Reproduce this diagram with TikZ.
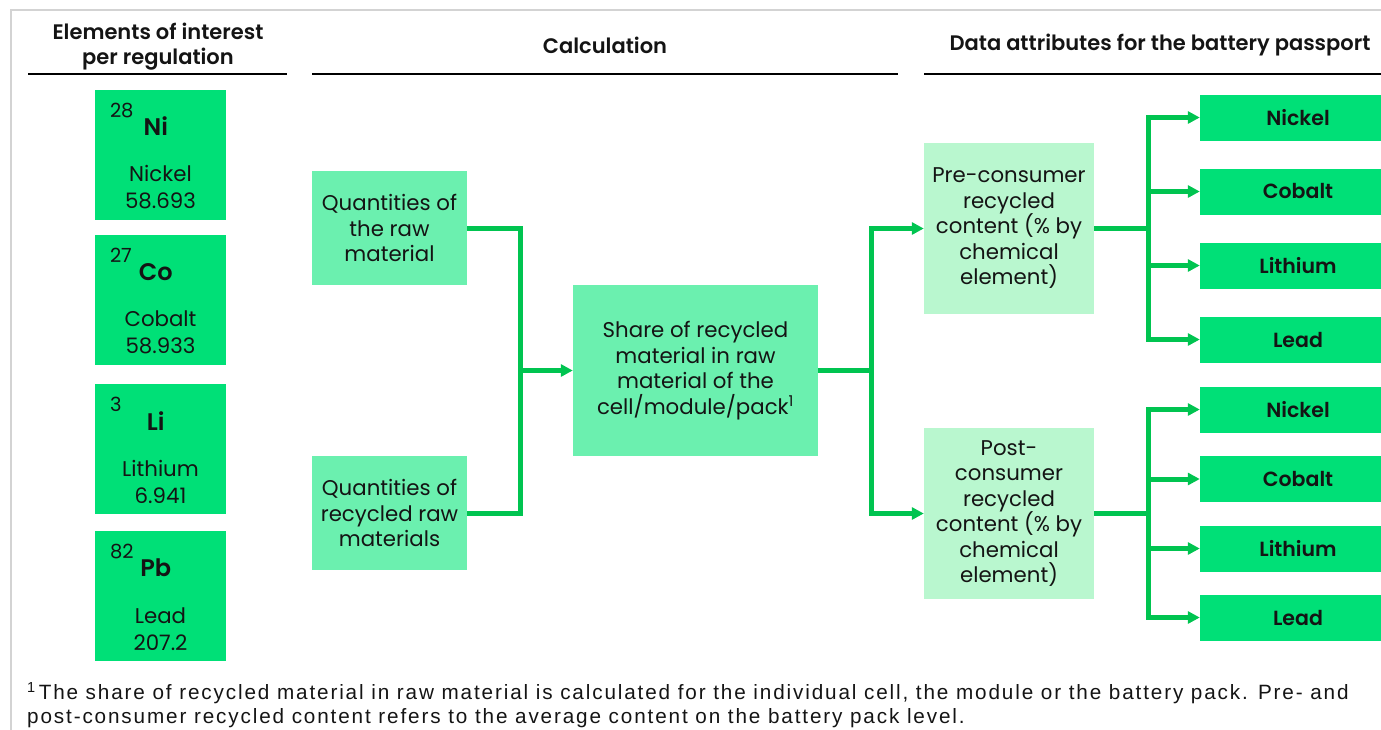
\documentclass[tikz,border=0pt]{standalone}
\usepackage{fontspec}
\setmainfont{Poppins}[BoldFont={Poppins SemiBold}]
\newfontfamily\notefont[LetterSpace=9]{Liberation Sans}
\usepackage{tikz}
\usetikzlibrary{arrows.meta,positioning,calc}
\usepackage{xcolor}
\definecolor{elemgreen}{HTML}{00E077}
\definecolor{calcgreen}{HTML}{6BF0AF}
\definecolor{attrgreen}{HTML}{B9F7CF}
\definecolor{arrowgreen}{HTML}{00C450}
\definecolor{framegrey}{HTML}{D3D3D3}
\definecolor{txt}{HTML}{141414}

\begin{document}
\begin{tikzpicture}[
  x=1pt, y=-1pt,
  font=\fontsize{21.3}{25.5}\selectfont, text=txt,
  elem/.style={fill=elemgreen, minimum width=131pt, minimum height=130pt, inner sep=0pt},
  znum/.style={font=\fontsize{19.5}{20}\selectfont, inner sep=0pt, anchor=west},
  sym/.style={font=\fontsize{24}{26}\selectfont\bfseries, inner sep=0pt},
  ename/.style={align=center, inner sep=0pt, font=\fontsize{21.3}{27}\selectfont},
  calc/.style={fill=calcgreen, align=center, inner sep=0pt},
  attr/.style={fill=attrgreen, align=center, inner sep=0pt, minimum width=170pt, minimum height=171pt},
  pass/.style={fill=elemgreen, font=\fontsize{20.5}{25}\selectfont\bfseries,
               minimum width=196pt, minimum height=46pt, inner sep=0pt},
  head/.style={font=\fontsize{21}{25}\selectfont\bfseries, align=center, inner sep=0pt},
  rule/.style={line width=2.5pt, draw=black},
  ln/.style={line width=5pt, draw=arrowgreen},
  ar/.style={ln, -{Triangle[length=12pt, width=12pt]}}
]
\useasboundingbox (0,0) rectangle (1381,729);
\draw[framegrey, line width=1.5pt] (11,10) rectangle (1420,760);

\node[head] (h-elem) at (158,47) {Elements of interest\\per regulation};
\node[head] (h-calc) at (605,45) {Calculation};
\node[head] (h-data) at (1160,45) {Data attributes for the battery passport};
\draw[rule] (28,74) -- (287,74);
\draw[rule] (312,74) -- (898,74);
\draw[rule] (924,74) -- (1381,74);

\node[elem]  (ni)   at (160.5,154.5) {};
\node[znum]  (ni-z) at ($(ni.north west)+(15,21)$) {28};
\node[sym]   (ni-s) at ($(ni.north west)+(61,37)$) {Ni};
\node[ename] (ni-n) at ($(ni.north)+(0,98)$) {Nickel\\58.693};

\node[elem]  (co)   at (160.5,300) {};
\node[znum]  (co-z) at ($(co.north west)+(15,21)$) {27};
\node[sym]   (co-s) at ($(co.north west)+(61,37)$) {Co};
\node[ename] (co-n) at ($(co.north)+(0,98)$) {Cobalt\\58.933};

\node[elem]  (li)   at (160.5,449) {};
\node[znum]  (li-z) at ($(li.north west)+(15,21)$) {3};
\node[sym]   (li-s) at ($(li.north west)+(61,37)$) {Li};
\node[ename] (li-n) at ($(li.north)+(0,98)$) {Lithium\\6.941};

\node[elem]  (pb)   at (160.5,596) {};
\node[znum]  (pb-z) at ($(pb.north west)+(15,21)$) {82};
\node[sym]   (pb-s) at ($(pb.north west)+(61,37)$) {Pb};
\node[ename] (pb-n) at ($(pb.north)+(0,98)$) {Lead\\207.2};

\node[calc, minimum width=155pt, minimum height=114pt] (raw) at (389.5,228)
     {Quantities of\\the raw\\material};
\node[calc, minimum width=155pt, minimum height=114pt] (rec) at (389.5,513)
     {Quantities of\\recycled raw\\materials};
\node[calc, minimum width=245pt, minimum height=171pt] (share) at (695.5,370.5)
     {Share of recycled\\material in raw\\material of the\\cell/module/pack\textsuperscript{1}};

\node[attr] (pre)  at (1009,228.5) {Pre-consumer\\recycled\\content (\% by\\chemical\\element)};
\node[attr] (post) at (1009,513.5) {Post-\\consumer\\recycled\\content (\% by\\chemical\\element)};

\node[pass] (p1) at (1298,117.5) {Nickel};
\node[pass] (p2) at (1298,191.5) {Cobalt};
\node[pass] (p3) at (1298,265.5) {Lithium};
\node[pass] (p4) at (1298,339.5) {Lead};
\node[pass] (q1) at (1298,409.5) {Nickel};
\node[pass] (q2) at (1298,479)   {Cobalt};
\node[pass] (q3) at (1298,548.5) {Lithium};
\node[pass] (q4) at (1298,617.5) {Lead};

\coordinate (j1) at (520,370.5);
\coordinate (j2) at (871,370.5);
\coordinate (j3) at (1148,228.5);
\coordinate (j4) at (1148,513.5);

\draw[ln] (raw.east) -| (j1);
\draw[ln] (rec.east) -| (j1);
\draw[ar] (j1) -- (share.west);

\draw[ln] (share.east) -- (j2);
\draw[ar] (j2) |- (pre.west);
\draw[ar] (j2) |- (post.west);

\draw[ln] (pre.east) -- (j3);
\draw[ar] (j3) |- (p1.west);
\draw[ar] (j3) |- (p2.west);
\draw[ar] (j3) |- (p3.west);
\draw[ar] (j3) |- (p4.west);

\draw[ln] (post.east) -- (j4);
\draw[ar] (j4) |- (q1.west);
\draw[ar] (j4) |- (q2.west);
\draw[ar] (j4) |- (q3.west);
\draw[ar] (j4) |- (q4.west);

\node[anchor=north west, align=left, inner sep=0pt, font=\notefont\fontsize{20.7}{23.5}\selectfont]
     (note) at (27,682) {\textsuperscript{1}\kern3pt The share of recycled material in raw material is calculated for the individual cell, the module or the battery pack. Pre- and\\
     post-consumer recycled content refers to the average content on the battery pack level.};
\end{tikzpicture}
\end{document}
